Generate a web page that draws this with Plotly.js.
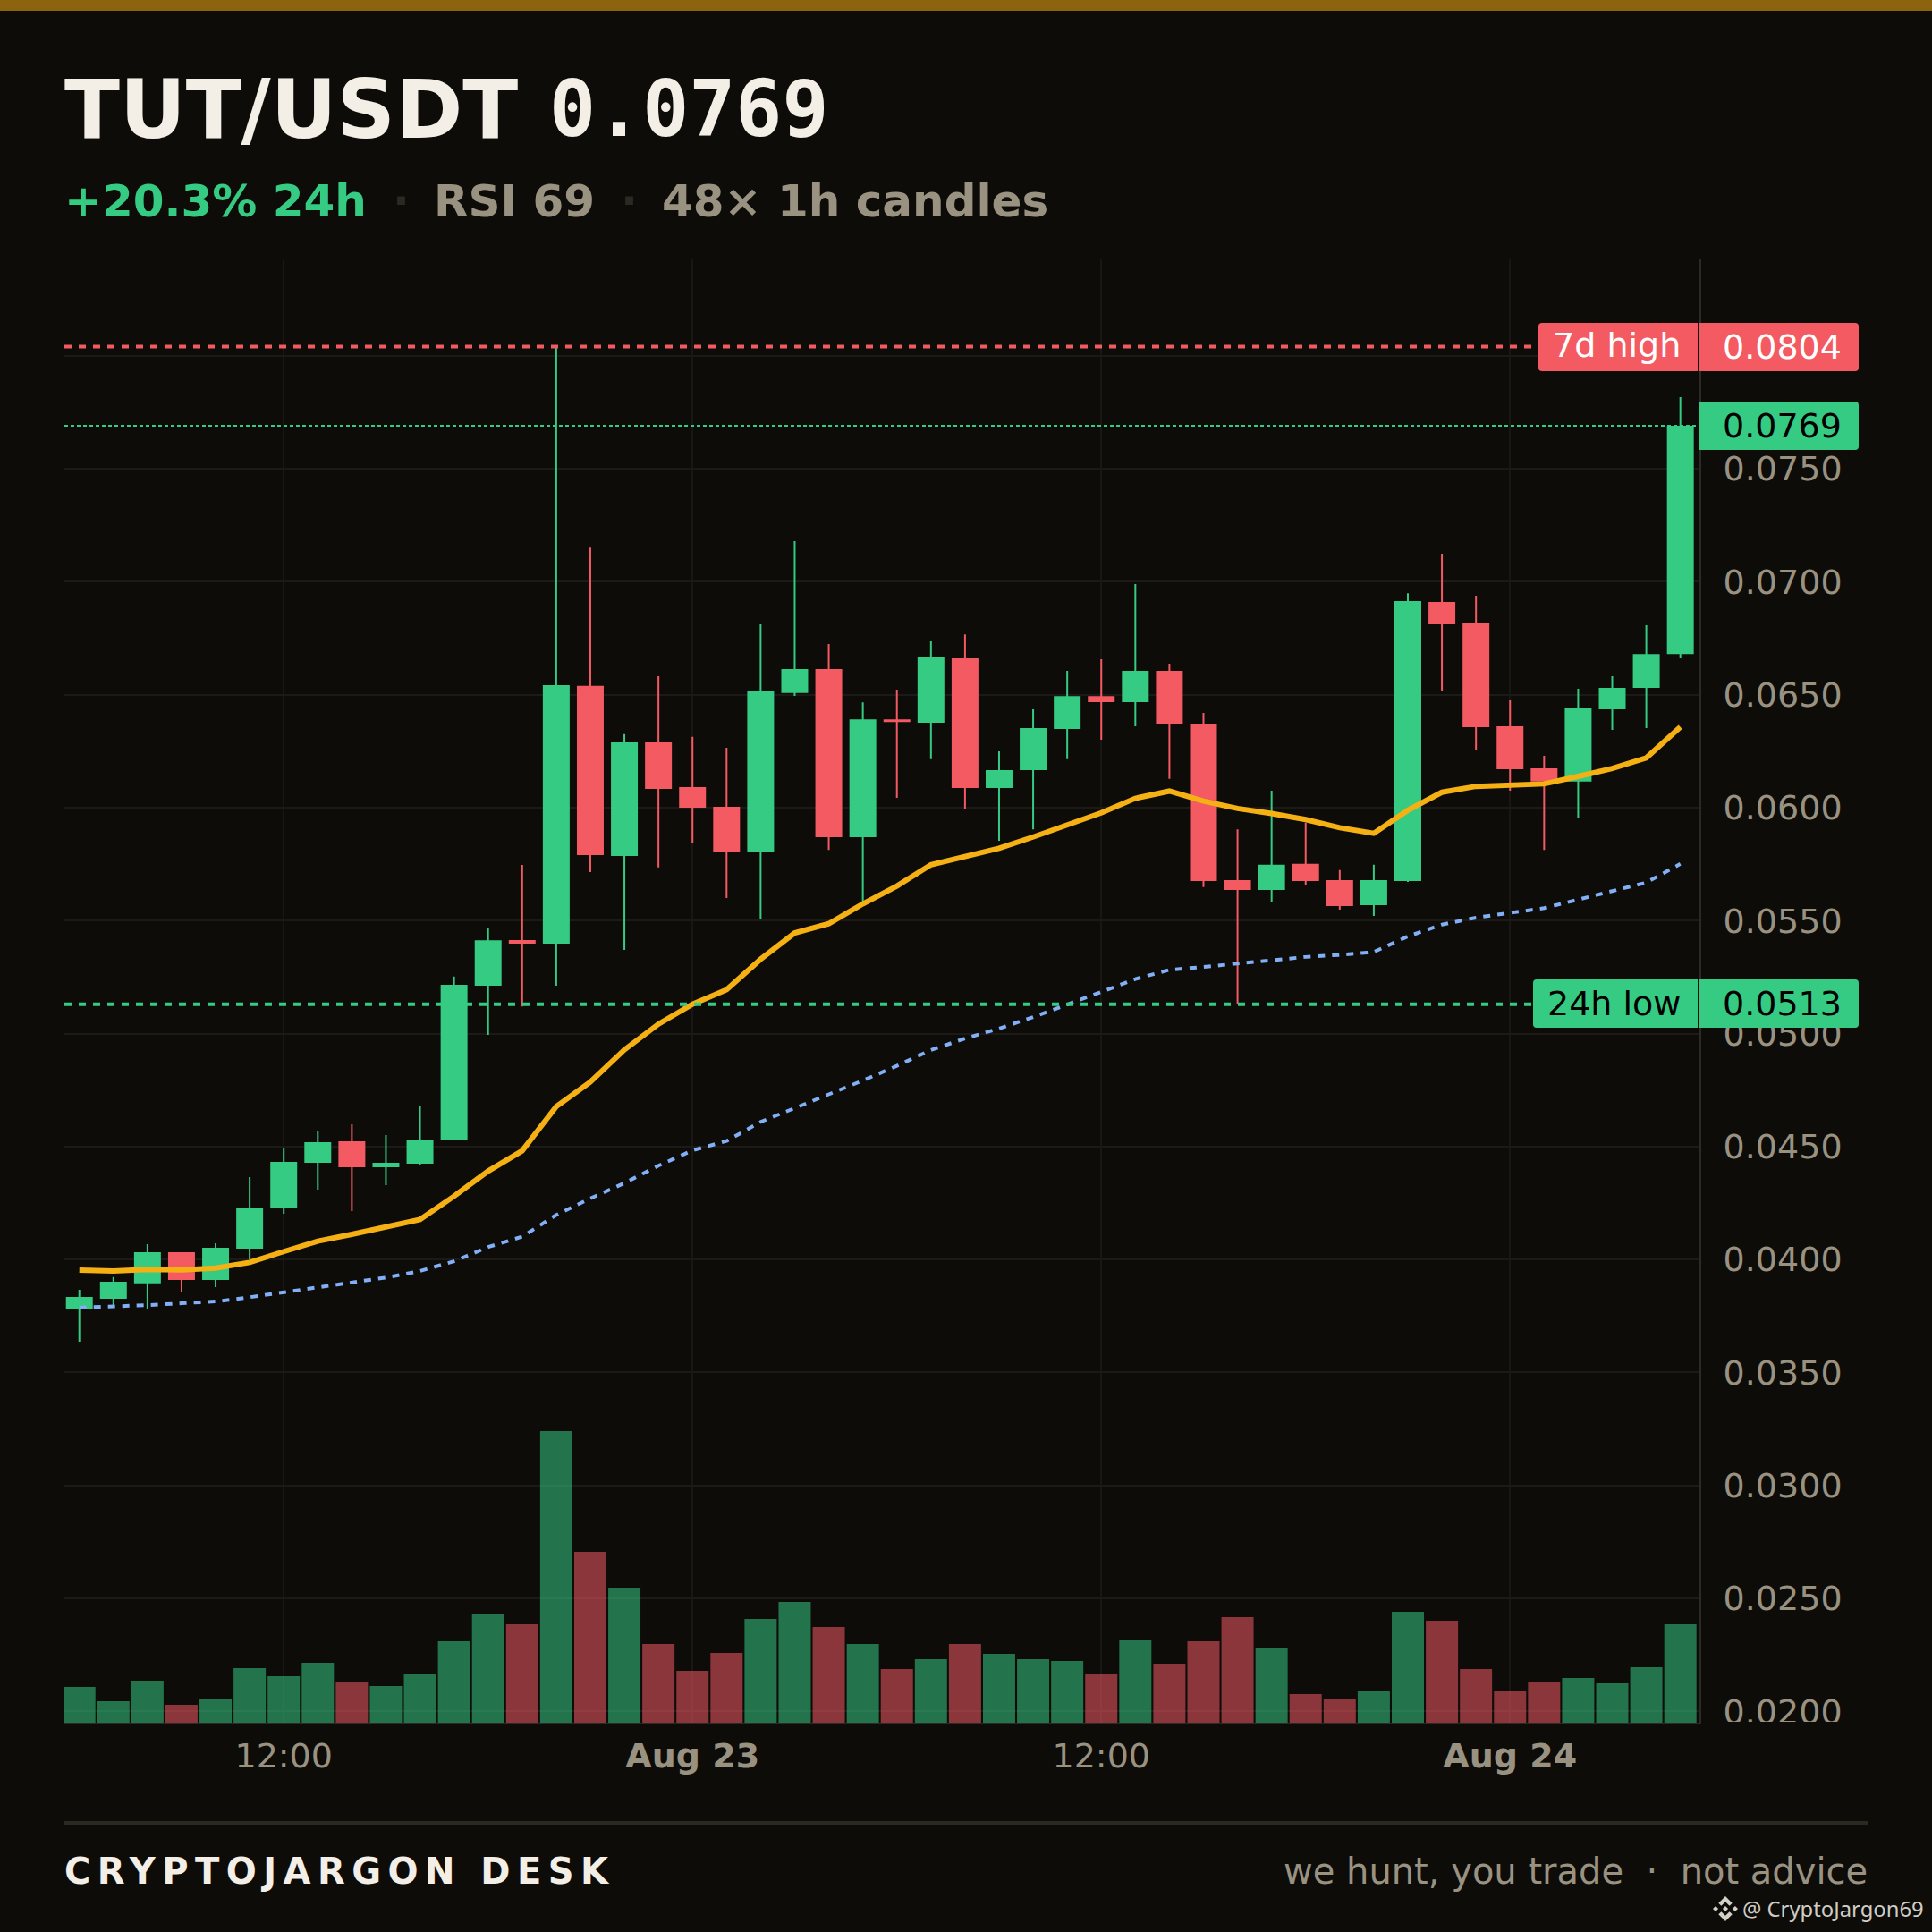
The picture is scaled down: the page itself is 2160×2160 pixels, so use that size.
<!DOCTYPE html>
<html>
<head>
<meta charset="utf-8">
<script src="https://cdn.plot.ly/plotly-3.0.1.min.js"></script>
<style>
html,body{margin:0;padding:0;background:#0d0c09;}
#chart{width:2160px;height:2160px;}
.annotation-text[data-unformatted*="CRYPTOJARGON"]{letter-spacing:7.45px;}
</style>
</head>
<body>
<div id="chart"></div>
<script>
// ---------- data ----------
var open_ = [0.03779,0.03826,0.03894,0.04032,0.03909,0.04048,0.04230,0.04428,0.04523,0.04408,0.04424,0.04527,0.05212,0.05414,0.05398,0.06539,0.05786,0.06289,0.06091,0.06004,0.05802,0.06507,0.06613,0.05869,0.06391,0.06376,0.06661,0.06087,0.06166,0.06348,0.06494,0.06467,0.06605,0.06372,0.05679,0.05635,0.05751,0.05679,0.05568,0.05675,0.06910,0.06819,0.06360,0.06174,0.06115,0.06435,0.06530,0.06680];
var high_ = [0.03866,0.03922,0.04068,0.04032,0.04072,0.04365,0.04491,0.04567,0.04598,0.04551,0.04677,0.05252,0.05469,0.05746,0.08040,0.07151,0.06325,0.06582,0.06313,0.06265,0.06811,0.07179,0.06724,0.06466,0.06522,0.06736,0.06767,0.06249,0.06435,0.06605,0.06657,0.06989,0.06637,0.06419,0.05904,0.06075,0.05933,0.05723,0.05747,0.06949,0.07124,0.06938,0.06475,0.06229,0.06526,0.06582,0.06807,0.07817];
var low_  = [0.03636,0.03795,0.03783,0.03854,0.03878,0.04000,0.04202,0.04309,0.04214,0.04329,0.04420,0.04527,0.04994,0.05120,0.05212,0.05715,0.05370,0.05735,0.05845,0.05600,0.05505,0.06494,0.05813,0.05576,0.06043,0.06214,0.05996,0.05853,0.05904,0.06214,0.06300,0.06360,0.06127,0.05648,0.05130,0.05584,0.05659,0.05548,0.05521,0.05671,0.06518,0.06257,0.06075,0.05813,0.05956,0.06344,0.06352,0.06661];
var close_= [0.03834,0.03901,0.04032,0.03909,0.04052,0.04230,0.04432,0.04519,0.04408,0.04428,0.04531,0.05216,0.05413,0.05398,0.06542,0.05790,0.06289,0.06083,0.06000,0.05802,0.06514,0.06613,0.05869,0.06391,0.06379,0.06665,0.06087,0.06166,0.06352,0.06494,0.06467,0.06605,0.06368,0.05675,0.05635,0.05747,0.05675,0.05564,0.05679,0.06914,0.06811,0.06356,0.06170,0.06115,0.06439,0.06530,0.06680,0.07690];
var emaFast = [0.03953,0.03949,0.03956,0.03954,0.03962,0.03987,0.04035,0.04081,0.04111,0.04142,0.04177,0.04280,0.04391,0.04481,0.04677,0.04786,0.04928,0.05042,0.05130,0.05194,0.05329,0.05445,0.05486,0.05574,0.05653,0.05747,0.05782,0.05820,0.05870,0.05926,0.05977,0.06041,0.06073,0.06029,0.05996,0.05974,0.05947,0.05911,0.05886,0.05988,0.06068,0.06094,0.06101,0.06105,0.06138,0.06173,0.06220,0.06357];
var emaSlow = [0.03787,0.03792,0.03798,0.03806,0.03814,0.03833,0.03855,0.03880,0.03900,0.03920,0.03949,0.03992,0.04055,0.04101,0.04197,0.04270,0.04338,0.04415,0.04483,0.04524,0.04609,0.04669,0.04732,0.04792,0.04857,0.04927,0.04978,0.05022,0.05073,0.05127,0.05184,0.05241,0.05282,0.05295,0.05309,0.05324,0.05339,0.05348,0.05361,0.05430,0.05482,0.05513,0.05533,0.05555,0.05593,0.05630,0.05668,0.05751];
var volume = [40,24,47,20,26,61,52,67,45,41,54,91,121,110,326,191,151,88,58,78,116,135,107,88,60,71,88,77,71,69,55,92,66,91,118,83,32,27,36,124,114,60,36,45,50,44,62,110];
var firstCandle = Date.UTC(2025,7,22,6,0,0);
var hourMs = 3600000;
var times = open_.map(function(_,i){return new Date(firstCandle+i*hourMs).toISOString().slice(0,19).replace('T',' ');});
var xTickVals = ['2025-08-22 12:00','2025-08-23 00:00','2025-08-23 12:00','2025-08-24 00:00'];
var xTickText = ['12:00','<b>Aug 23</b>','12:00','<b>Aug 24</b>'];
var high7d = 0.0804, low24h = 0.0513, lastPrice = 0.0769;

// ---------- style ----------
var BG='#0d0c09', GREEN='#36cb83', RED='#f45a62', AMBER='#f5b014', BLUE='#82aff5', MUTED='#9a9281', CREAM='#f4efe6', GRID='#1b1a16', AXIS='#2b2a25', DIM='#2a2a22';
var volColors = open_.map(function(o,i){return close_[i]>=o?'rgba(54,203,131,0.55)':'rgba(244,90,98,0.55)';});
// the 2px candle outline adds 1px on each side of a body; keep the body edge on the read price
var outlineInset = 0.00004;
var bodyOpen = open_.map(function(o,i){var c=close_[i],d=Math.min(outlineInset,Math.abs(c-o)/2);return c>=o?o+d:o-d;});
var bodyClose = close_.map(function(c,i){var o=open_[i],d=Math.min(outlineInset,Math.abs(c-o)/2);return c>=o?c-d:c+d;});

// pixel → paper helpers
var L=72,R=1900,T=290,B=1926;
function px(x){return (x-L)/(R-L);}
function py(y){return (B-y)/(B-T);}
function P(x,y){return px(x).toFixed(5)+','+py(y).toFixed(5);}
function roundBox(x0,y0,x1,y1,rl,rr){
  return 'M'+P(x0+rl,y0)+' L'+P(x1-rr,y0)+' Q'+P(x1,y0)+' '+P(x1,y0+rr)+' L'+P(x1,y1-rr)+' Q'+P(x1,y1)+' '+P(x1-rr,y1)+' L'+P(x0+rl,y1)+' Q'+P(x0,y1)+' '+P(x0,y1-rl)+' L'+P(x0,y0+rl)+' Q'+P(x0,y0)+' '+P(x0+rl,y0)+' Z';
}
function fillShape(path,color){return {type:'path',xref:'paper',yref:'paper',path:path,fillcolor:color,line:{width:0},layer:'above'};}
function rectShape(x0,y0,x1,y1,color){return {type:'rect',xref:'paper',yref:'paper',x0:px(x0),x1:px(x1),y0:py(y1),y1:py(y0),fillcolor:color,line:{width:0},layer:'above'};}
function hline(v,color,w,dash){return {type:'line',xref:'paper',yref:'y',x0:0,x1:1,y0:v,y1:v,line:{color:color,width:w,dash:dash},layer:'above'};}
function logoPoly(cx,cy,r,pts){return 'M'+pts.map(function(p){return P(cx+p[0]*r,cy+p[1]*r);}).join(' L')+' Z';}
var logoParts=[
 [[0,-1],[.55,-.45],[.33,-.23],[0,-.56],[-.33,-.23],[-.55,-.45]],
 [[0,1],[.55,.45],[.33,.23],[0,.56],[-.33,.23],[-.55,.45]],
 [[-1,0],[-.78,-.22],[-.56,0],[-.78,.22]],
 [[1,0],[.78,-.22],[.56,0],[.78,.22]],
 [[0,-.22],[.22,0],[0,.22],[-.22,0]]
];
function text(s,x,y,size,color,anchor,family){
  return {text:s,xref:'paper',yref:'paper',x:px(x),y:py(y),xanchor:anchor||'left',yanchor:'middle',showarrow:false,borderpad:0,borderwidth:0,
          font:{size:size,color:color,family:family||'DejaVu Sans'}};
}

var shapes=[
  rectShape(0,0,2160,12,'#8c6410'),
  rectShape(72,2036,2088,2040,DIM),
  rectShape(1903,1925,2110,1950,BG),
  hline(high7d,RED,4,'8px,8px'),
  hline(lastPrice,GREEN,2,'4px,3px'),
  hline(low24h,GREEN,4,'8px,8px'),
  rectShape(1898,361,1900,415,BG),
  rectShape(1898,1095,1900,1149,BG),
  fillShape(roundBox(1720,361,1898,415,4,0),RED),
  fillShape(roundBox(1900,361,2078,415,0,4),RED),
  fillShape(roundBox(1900,449,2078,503,0,4),GREEN),
  fillShape(roundBox(1714,1095,1898,1149,4,0),GREEN),
  fillShape(roundBox(1900,1095,2078,1149,0,4),GREEN)
];
logoParts.forEach(function(p){shapes.push(fillShape(logoPoly(1929,2134,14,p),'#d4d0c8'));});

var annotations=[
  text('<b>TUT/USDT</b>',72,122,90.8,CREAM),
  text('<b>0.0769</b>',614,122,86.5,CREAM,'left','DejaVu Sans Mono'),
  text('<b>+20.3% 24h</b>',72,225.5,50,GREEN),
  text('<b>·</b>',448,225.5,50,DIM,'center'),
  text('<b>RSI 69</b>',485,225.5,50,MUTED),
  text('<b>·</b>',703,225.5,50,DIM,'center'),
  text('<b>48× 1h candles</b>',740,225.5,50,MUTED),
  text('7d high',1807.6,385.5,38,'#ffffff','center'),
  text('0.0804',2059,388,38,'#ffffff','right'),
  text('0.0769',2059,476,38,'#000000','right'),
  text('24h low',1804.6,1122,38,'#000000','center'),
  text('0.0513',2059,1122,38,'#000000','right'),
  text('<b>CRYPTOJARGON DESK</b>',72,2092,40,CREAM),
  text('we hunt, you trade  ·  not advice',2088,2092,40,MUTED,'right'),
  text('@ CryptoJargon69',1948,2134,23.8,'#d0ccc4','left','Noto Sans')
];

var traces=[
 {type:'bar',x:times,y:volume,yaxis:'y2',marker:{color:volColors,line:{width:0}},hoverinfo:'skip',showlegend:false},
 {type:'candlestick',x:times,open:bodyOpen,high:high_,low:low_,close:bodyClose,whiskerwidth:0,hoverinfo:'skip',showlegend:false,
  increasing:{line:{color:GREEN,width:2},fillcolor:GREEN},decreasing:{line:{color:RED,width:2},fillcolor:RED}},
 {type:'scatter',mode:'lines',x:times,y:emaSlow,line:{color:BLUE,width:4,dash:'8px,8px'},hoverinfo:'skip',showlegend:false},
 {type:'scatter',mode:'lines',x:times,y:emaFast,line:{color:AMBER,width:6},hoverinfo:'skip',showlegend:false}
];

var layout={
  width:2160,height:2160,paper_bgcolor:BG,plot_bgcolor:BG,showlegend:false,
  margin:{l:L,r:2160-R,t:T,b:2160-B,pad:0},
  bargap:0.055,boxgap:0.265,boxgroupgap:0,
  font:{family:'DejaVu Sans',color:MUTED,size:38},
  xaxis:{type:'date',range:['2025-08-22 05:33:41','2025-08-24 05:33:36'],tickmode:'array',tickvals:xTickVals,ticktext:xTickText,
         tickfont:{size:38,color:MUTED,family:'DejaVu Sans'},showgrid:true,gridcolor:'#181713',gridwidth:2,zeroline:false,
         showline:true,linecolor:AXIS,linewidth:2,ticks:'',ticklen:0,ticklabelstandoff:2,rangeslider:{visible:false},fixedrange:true},
  yaxis:{side:'right',range:[0.019497,0.084264],tick0:0.02,dtick:0.005,tickformat:'.4f',
         tickfont:{size:38,color:MUTED,family:'DejaVu Sans'},showgrid:true,gridcolor:GRID,gridwidth:2,zeroline:false,
         showline:true,linecolor:AXIS,linewidth:2,ticks:'',ticklen:0,ticklabelstandoff:17,fixedrange:true},
  yaxis2:{overlaying:'y',side:'right',range:[0,1636],showgrid:false,showticklabels:false,zeroline:false,showline:false,fixedrange:true},
  shapes:shapes,annotations:annotations
};
Plotly.newPlot('chart',traces,layout,{displayModeBar:false,staticPlot:true});
</script>
</body>
</html>
